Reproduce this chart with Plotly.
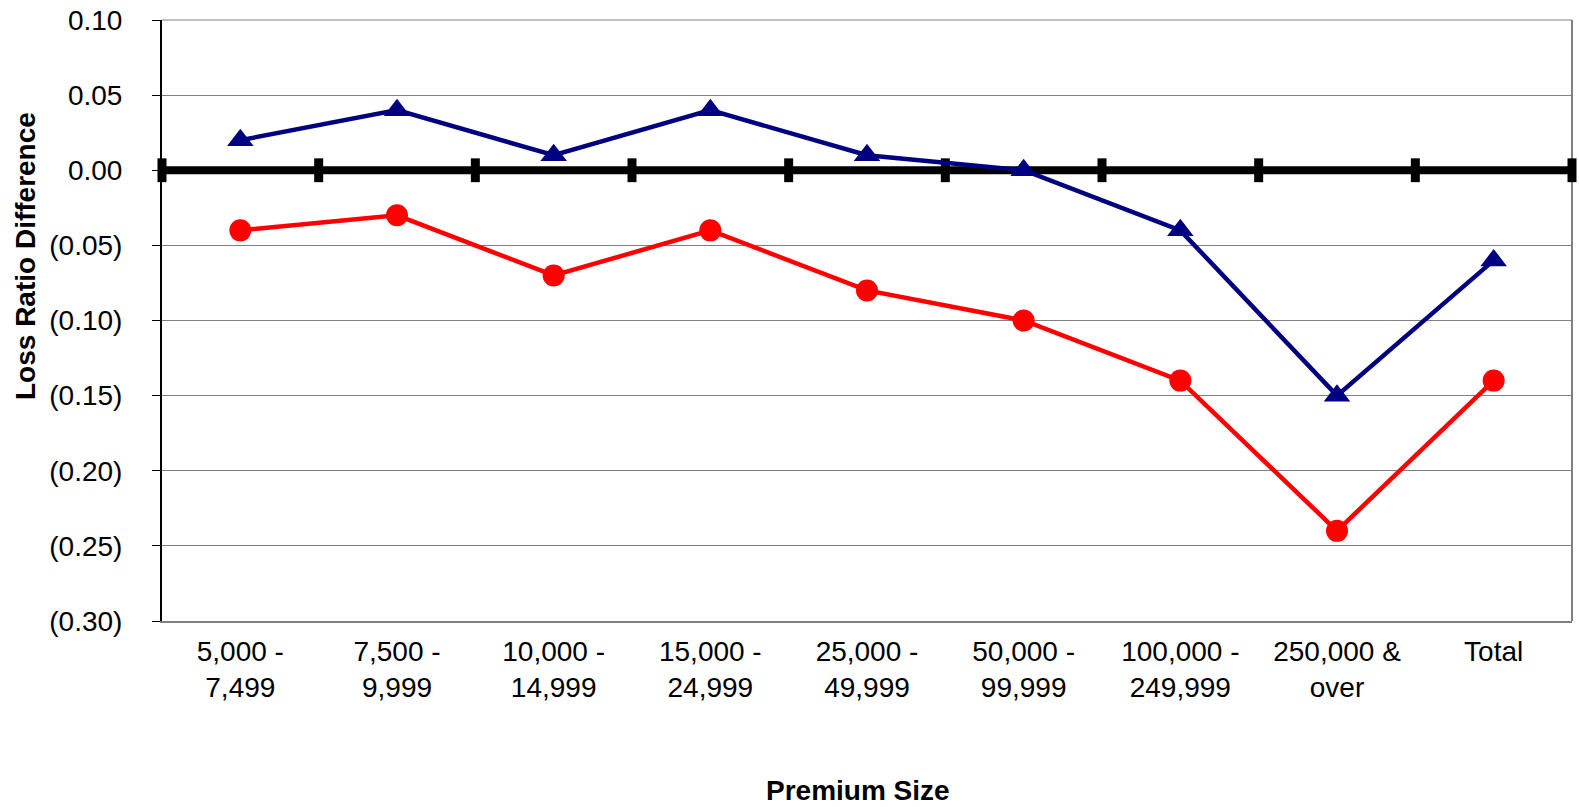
import plotly.graph_objects as go

categories = ["5,000 -<br>7,499", "7,500 -<br>9,999", "10,000 -<br>14,999", "15,000 -<br>24,999",
              "25,000 -<br>49,999", "50,000 -<br>99,999", "100,000 -<br>249,999", "250,000 &<br>over", "Total"]
blue_vals = [0.02, 0.04, 0.01, 0.04, 0.01, 0.00, -0.04, -0.15, -0.06]
red_vals = [-0.04, -0.03, -0.07, -0.04, -0.08, -0.10, -0.14, -0.24, -0.14]
zero_line = [0, 0, 0, 0, 0, 0, 0, 0, 0, 0]
y_ticks = [0.10, 0.05, 0.00, -0.05, -0.10, -0.15, -0.20, -0.25, -0.30]
y_ticktext = ["0.10", "0.05", "0.00", "(0.05)", "(0.10)", "(0.15)", "(0.20)", "(0.25)", "(0.30)"]

cat_x = [i + 0.5 for i in range(len(categories))]
bound_x = list(range(len(zero_line)))

FONT = "Liberation Sans, Arial, sans-serif"
FS = 28

W, H = 1579, 807
L, R, T, B = 162, 7, 20, 186
pw = W - L - R
ph = H - T - B


def px_x(x):
    return (x - L) / pw


def px_y(y):
    return (H - y - B) / ph


fig = go.Figure()
fig.add_trace(go.Scatter(x=bound_x, y=zero_line, mode="lines+markers",
                         line=dict(color="black", width=8),
                         marker=dict(symbol="line-ns", size=17, line=dict(color="black", width=9)),
                         cliponaxis=False, showlegend=False, hoverinfo="skip"))
fig.add_trace(go.Scatter(x=cat_x, y=red_vals, mode="lines+markers",
                         line=dict(color="#FF0000", width=4.5),
                         marker=dict(symbol="circle", size=22, color="#FF0000"),
                         cliponaxis=False, showlegend=False))
fig.add_trace(go.Scatter(x=cat_x, y=blue_vals, mode="lines+markers",
                         line=dict(color="#000080", width=4.5),
                         marker=dict(symbol="triangle-up", size=23, color="#000080"),
                         cliponaxis=False, showlegend=False))

fig.update_layout(
    width=W, height=H,
    margin=dict(l=L, r=R, t=T, b=B),
    plot_bgcolor="white", paper_bgcolor="white",
    font=dict(family=FONT, size=FS, color="black"),
    xaxis=dict(range=[0, 9], tickmode="array", tickvals=cat_x, ticktext=categories,
               showgrid=False, zeroline=False, showline=True, linecolor="#808080", linewidth=2,
               mirror=False, ticks="", tickfont=dict(size=FS), automargin=False,
               ticklabelstandoff=4, ticklabeloverflow="allow"),
    yaxis=dict(range=[-0.30, 0.10], tickmode="array", tickvals=y_ticks, ticktext=y_ticktext,
               showgrid=True, gridcolor="#808080", gridwidth=1, zeroline=False,
               showline=True, linecolor="black", linewidth=2, ticks="outside", ticklen=8,
               tickcolor="black", tickfont=dict(size=FS), ticklabelstandoff=24, automargin=False,
               ticklabeloverflow="allow"),
    annotations=[
        dict(text="<b>Loss Ratio Difference</b>", x=px_x(25), y=px_y(256),
             xanchor="center", yanchor="middle",
             xref="paper", yref="paper", showarrow=False, textangle=-90, font=dict(size=FS)),
        dict(text="<b>Premium Size</b>", x=px_x(858), y=px_y(790),
             xanchor="center", yanchor="middle",
             xref="paper", yref="paper", showarrow=False, font=dict(size=FS)),
    ],
    shapes=[dict(type="line", xref="paper", yref="paper", x0=1, x1=1, y0=0, y1=1,
                 line=dict(color="#808080", width=2), layer="below"),
            dict(type="line", xref="paper", yref="paper", x0=0, x1=1, y0=1, y1=1,
                 line=dict(color="#808080", width=1), layer="below")],
)

fig.write_html("out.html", config={"displayModeBar": False},
               post_script="document.body.style.margin='0';document.body.style.overflow='hidden';")
